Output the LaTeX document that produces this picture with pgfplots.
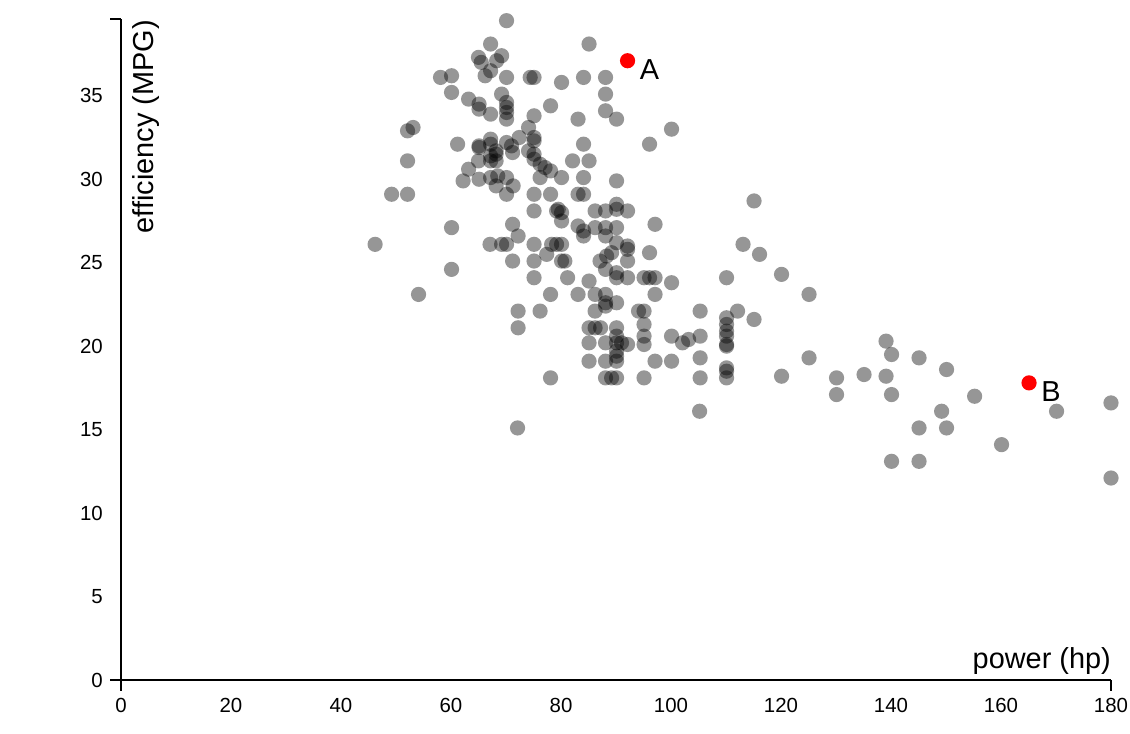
\documentclass[border=0pt]{standalone}
\usepackage{fontspec}
\setmainfont{Liberation Sans}
\usepackage{pgfplots}
\usepackage{pgfplotstable}
\pgfplotsset{compat=1.18}

\pgfplotstableread{
x y
70.1 39.5
67.2 38.1
65.0 37.3
65.5 37.0
69.2 37.4
68.3 37.1
67.2 36.5
66.2 36.2
70.1 36.1
58.1 36.1
60.1 36.2
74.4 36.1
75.1 36.1
60.1 35.2
63.2 34.8
65.1 34.5
65.1 34.2
67.2 33.9
69.2 35.1
70.1 34.6
70.1 34.3
70.1 34.0
70.1 33.6
78.1 34.4
75.1 33.8
74.1 33.1
75.1 32.5
75.1 32.3
72.4 32.5
53.1 33.1
52.1 32.9
61.2 32.1
65.1 32.0
65.1 31.9
67.2 32.4
67.2 32.1
70.1 32.2
71.0 32.0
71.2 31.6
68.2 31.7
68.2 31.5
67.2 31.4
74.1 31.7
75.1 31.5
75.1 31.2
52.1 31.1
65.0 31.1
67.2 31.1
68.2 31.1
63.2 30.6
76.2 30.9
77.1 30.7
78.1 30.5
62.2 29.9
65.1 30.0
67.2 30.1
68.5 30.2
68.2 29.6
70.1 30.1
70.1 29.1
71.3 29.6
76.2 30.1
49.2 29.1
52.1 29.1
75.1 29.1
78.1 29.1
75.1 28.1
79.2 28.1
60.1 27.1
46.2 26.1
67.1 26.1
69.2 26.1
70.1 26.1
71.2 27.3
72.2 26.6
75.1 26.1
77.4 25.5
78.3 26.1
79.2 26.1
71.2 25.1
75.1 25.1
60.1 24.6
75.1 24.1
54.1 23.1
78.1 23.1
72.2 22.1
76.2 22.1
72.2 21.1
72.1 15.1
85.1 38.1
80.1 35.8
84.1 36.1
88.1 36.1
88.1 35.1
83.1 33.6
88.1 34.1
90.1 33.6
100.1 33.0
96.1 32.1
84.1 32.1
82.1 31.1
85.1 31.1
80.1 30.1
84.1 30.1
90.1 29.9
83.1 29.1
84.1 29.1
79.5 28.2
80.1 28.0
80.1 27.5
86.2 28.1
88.1 28.1
90.1 28.5
90.1 28.2
92.1 28.1
97.1 27.3
83.1 27.2
84.1 26.9
84.1 26.6
86.2 27.1
88.1 27.1
88.1 26.6
90.1 27.1
80.1 26.1
90.1 26.2
92.1 26.0
92.1 25.8
89.2 25.6
88.3 25.4
87.1 25.1
96.1 25.6
80.1 25.1
80.7 25.1
92.1 25.1
88.1 24.6
90.1 24.4
90.1 24.1
92.1 24.1
81.2 24.1
85.1 23.9
95.1 24.1
96.1 24.1
97.1 24.1
100.1 23.8
110.1 24.1
83.1 23.1
86.2 23.1
88.1 23.1
88.1 22.6
97.1 23.1
86.2 22.1
88.1 22.4
90.1 22.6
94.1 22.1
95.1 22.1
105.3 22.1
85.1 21.1
86.2 21.1
87.2 21.1
90.1 21.1
95.1 21.3
85.1 20.2
88.1 20.2
90.1 20.2
90.1 20.6
91.0 20.2
92.1 20.1
95.1 20.6
95.1 20.1
100.1 20.6
102.1 20.2
103.2 20.4
105.3 20.6
85.1 19.1
88.1 19.1
90.1 19.4
90.1 19.1
90.1 19.7
97.1 19.1
100.1 19.1
105.3 19.3
78.1 18.1
88.1 18.1
89.2 18.1
90.1 18.1
95.1 18.1
105.3 18.1
115.1 28.7
113.1 26.1
116.1 25.5
120.1 24.3
125.1 23.1
110.1 21.7
110.1 21.3
110.1 20.9
110.1 20.6
110.1 20.1
110.1 20.0
110.1 18.7
110.1 18.5
110.1 18.1
112.1 22.1
115.1 21.6
105.2 16.1
120.1 18.2
125.1 19.3
130.1 18.1
130.1 17.1
135.1 18.3
139.1 20.3
140.1 19.5
139.1 18.2
140.1 17.1
145.1 19.3
150.1 18.6
155.2 17.0
170.1 16.1
180.0 16.6
149.2 16.1
145.1 15.1
150.1 15.1
160.1 14.1
140.1 13.1
145.1 13.1
180.0 12.1
}\cars

\pgfplotstableread{
x y
92.1 37.1
165.1 17.8
}\picked

\begin{document}
\begin{tikzpicture}
\useasboundingbox (-121bp,-54bp) rectangle (1009bp,680bp);
\begin{axis}[
  scale only axis,
  width=990bp, height=661bp,
  xmin=0, xmax=180, ymin=0, ymax=39.6,
  axis x line*=bottom, axis y line*=left,
  axis line style={line width=2bp, black},
  xtick={0,20,...,180}, ytick={0,5,...,35},
  major tick length=0pt,
  /pgf/number format/assume math mode=true,
  tick label style={font=\fontsize{20.5}{24}\selectfont},
  xticklabel style={anchor=north, inner sep=0pt, yshift=-18bp},
  yticklabel style={anchor=east, inner sep=0pt, xshift=-18bp},
  clip=false,
]
\addplot[only marks, mark=*, mark size=7.6bp, draw opacity=0,
  mark options={draw opacity=0, line width=0pt, fill=black, fill opacity=0.41}] table {\cars};
\addplot[only marks, mark=*, mark size=7.6bp, draw opacity=0,
  mark options={draw opacity=0, line width=0pt, fill=red}] table {\picked};

\draw[line width=2bp] (axis cs:0,0) -- ++(0,-11bp);
\draw[line width=2bp] (axis cs:180,0) -- ++(0,-11bp);
\draw[line width=2bp] (axis cs:0,0) -- ++(-11bp,0);
\draw[line width=2bp] (axis cs:0,39.6) -- ++(-11bp,0);

\node[anchor=base west, inner sep=0pt, font=\fontsize{29}{32}\selectfont]
  at ([xshift=12bp,yshift=-19bp]axis cs:92.1,37.1) {A};
\node[anchor=base west, inner sep=0pt, font=\fontsize{29}{32}\selectfont]
  at ([xshift=12bp,yshift=-19bp]axis cs:165.1,17.8) {B};

\node[anchor=base east, inner sep=0pt, font=\fontsize{29}{33}\selectfont]
  at ([yshift=12bp]rel axis cs:1,0) {power (hp)};
\node[rotate=90, anchor=base east, inner sep=0pt, font=\fontsize{29}{33}\selectfont]
  at ([xshift=33bp,yshift=-1bp]rel axis cs:0,1) {efficiency (MPG)};
\end{axis}
\end{tikzpicture}
\end{document}
